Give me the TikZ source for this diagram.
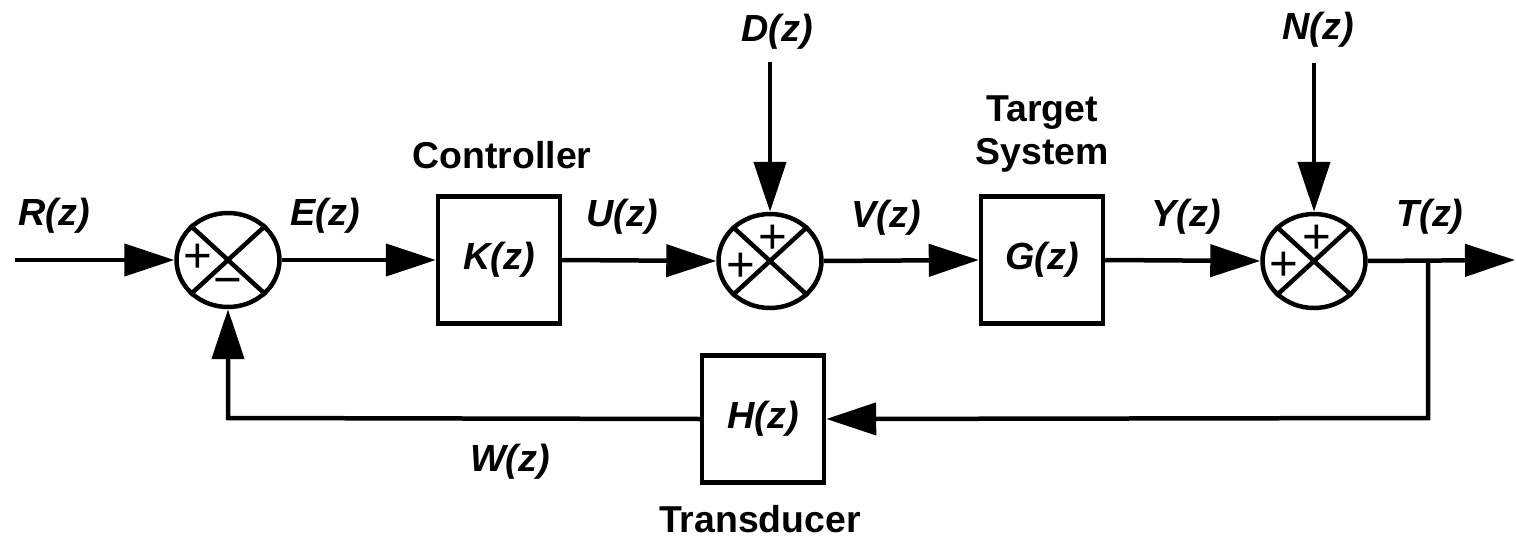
\documentclass[tikz,border=0pt]{standalone}
\usepackage{fontspec}
\setmainfont{Liberation Sans}
\usetikzlibrary{arrows.meta,shapes.geometric}
\begin{document}
\begin{tikzpicture}[x=0.02cm,y=-0.02cm,line width=0.09cm,
  lbl/.style={font=\fontsize{21.5}{26}\selectfont\bfseries\itshape,inner sep=0},
  captxt/.style={font=\fontsize{21.3}{24.4}\selectfont\bfseries,inner sep=0,align=center},
  blk/.style={draw,minimum width=2.44cm,minimum height=2.54cm,inner sep=0,
    font=\fontsize{21.5}{26}\selectfont\bfseries\itshape},
  sumj/.style={draw,ellipse,minimum width=2.06cm,minimum height=1.88cm,inner sep=0},
  sgn/.style={font=\fontsize{28}{28}\selectfont,inner sep=0},
  arr/.style={-{Triangle[length=1cm,width=0.64cm]}}]
\useasboundingbox (0,0) rectangle (1516,541);
% summing junctions
\node[sumj] (s1) at (228,260) {};
\node[sumj] (s2) at (770,261) {};
\node[sumj] (s3) at (1314,261) {};
\foreach \s in {s1,s2,s3}{
  \draw (\s.north west) -- (\s.south east);
  \draw (\s.north east) -- (\s.south west);
}
\node[sgn] (s1p) at (198,258) {+};
\node[sgn] (s1m) at (228,287) {\char"2212};
\node[sgn] (s2l) at (741,267) {+};
\node[sgn] (s2t) at (773,239) {+};
\node[sgn] (s3l) at (1284,266) {+};
\node[sgn] (s3t) at (1317,239) {+};
% blocks
\node[blk] (K) at (499,260) {K(z)};
\node[blk] (G) at (1042,260) {G(z)};
\node[blk] (H) at (763,419) {H(z)};
% captions
\node[captxt] (kc) at (502,155) {Controller};
\node[captxt] (gc) at (1042,134) {Target\\System};
\node[captxt] (hc) at (760,519) {Transducer};
% signal labels
\node[lbl] (lR) at (54,216) {R(z)};
\node[lbl] (lE) at (325,216) {E(z)};
\node[lbl] (lU) at (622,217) {U(z)};
\node[lbl] (lV) at (886,218) {V(z)};
\node[lbl] (lD) at (777,32) {D(z)};
\node[lbl] (lY) at (1186,217) {Y(z)};
\node[lbl] (lN) at (1318,30) {N(z)};
\node[lbl] (lT) at (1430,217) {T(z)};
\node[lbl] (lW) at (510,462) {W(z)};
% coordinates
\coordinate (in) at (15,260);
\coordinate (out) at (1515,260);
\coordinate (tap) at (1428,260);
\coordinate (fbr) at (1428,418);
\coordinate (fbl) at (228,418);
\coordinate (dtop) at (770,62);
\coordinate (ntop) at (1314,63);
% connectors
\draw[arr] (in) -- (s1.west);
\draw[arr] (s1.east) -- (K.west);
\draw[arr] (K.east) -- (s2.west);
\draw[arr] (s2.east) -- (G.west);
\draw[arr] (G.east) -- (s3.west);
\draw[arr] (s3.east) -- (out);
\draw[arr] (dtop) -- (s2.north);
\draw[arr] (ntop) -- (s3.north);
\draw[arr] (tap) -- (fbr) -- (H.east);
\draw[arr] (H.west) -- (fbl) -- (s1.south);
\end{tikzpicture}
\end{document}
